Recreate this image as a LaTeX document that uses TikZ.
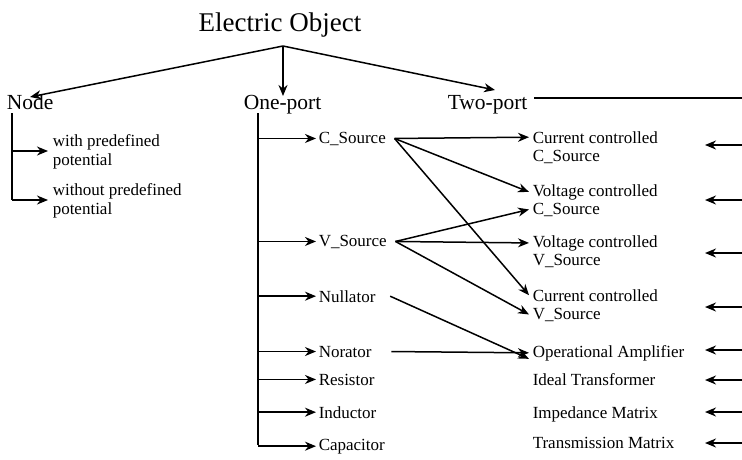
\documentclass[tikz,border=0pt]{standalone}
\usepackage{fontspec}
\setmainfont{Liberation Serif}
\usetikzlibrary{arrows.meta}
\begin{document}
\begin{tikzpicture}[x=1pt,y=-1pt,
  line width=1.5pt,
  arr/.style={-{Stealth[length=11pt,width=9pt,inset=3.5pt]}},
  big/.style={font=\rmfamily\fontsize{27}{30}\selectfont,inner sep=0pt,anchor=base},
  mid/.style={font=\rmfamily\fontsize{21.5}{24}\selectfont,inner sep=0pt,anchor=base west},
  small/.style={font=\rmfamily\fontsize{17}{19}\selectfont,inner sep=0pt,anchor=base west}]
\useasboundingbox (0,0) rectangle (742,459);

% top level
\node[big] (eo) at (280,31) {Electric Object};
\coordinate (apex) at (283,46);
\node[mid] (nd) at (6,109) {Node};
\node[mid] (op) at (243,109) {One-port};
\node[mid] (tp) at (447,109) {Two-port};
\coordinate (ndtip) at (30,97);
\coordinate (optip) at (283,96);
\coordinate (tptip) at (495,90);
\draw[arr] (apex) -- (ndtip);
\draw[arr] (apex) -- (optip);
\draw[arr] (apex) -- (tptip);
\coordinate (tpend) at (742,98);
\draw ([xshift=6pt]tp.east |- tpend) -- (tpend);

% node kinds
\node[small] (wp1) at (52,146) {with predefined};
\node[small] (wp2) at (52,165) {potential};
\node[small] (wo1) at (52,195) {without predefined};
\node[small] (wo2) at (52,214) {potential};
\coordinate (nv0) at (12,113);
\coordinate (nv1) at (12,151);
\coordinate (nv2) at (12,200);
\draw (nv0) -- (nv2);
\draw[arr] (nv1) -- (48,151);
\draw[arr] (nv2) -- (48,200);

% one-ports
\node[small] (cs) at (318,143) {C\_Source};
\node[small] (vs) at (318,246) {V\_Source};
\node[small] (nul) at (318,302) {Nullator};
\node[small] (nor) at (318,357) {Norator};
\node[small] (res) at (318,385) {Resistor};
\node[small] (ind) at (318,418) {Inductor};
\node[small] (cap) at (318,450) {Capacitor};
\coordinate (ov0) at (258,113);
\draw (ov0) -- (258,445);
\foreach \n in {cs,vs,nul,nor,res,ind,cap}
  \draw[arr] (258,0 |- \n.west) -- ([xshift=-2pt]\n.west);

% two-ports
\node[small] (cc1) at (532,143) {Current controlled};
\node[small] (cc2) at (532,161) {C\_Source};
\node[small] (vc1) at (532,196) {Voltage controlled};
\node[small] (vc2) at (532,214) {C\_Source};
\node[small] (vv1) at (532,247) {Voltage controlled};
\node[small] (vv2) at (532,265) {V\_Source};
\node[small] (cv1) at (532,301) {Current controlled};
\node[small] (cv2) at (532,319) {V\_Source};
\node[small] (oa) at (532,357) {Operational Amplifier};
\node[small] (it) at (532,385) {Ideal Transformer};
\node[small] (im) at (532,418) {Impedance Matrix};
\node[small] (tm) at (532,448) {Transmission Matrix};

% controlled sources
\coordinate (csout) at ([xshift=8pt]cs.east);
\coordinate (vsout) at ([xshift=8pt]vs.east);
\draw[arr] (csout) -- ([xshift=-3pt]cc1.west);
\draw[arr] (csout) -- ([xshift=-3pt]vc1.west);
\draw[arr] (csout) -- ([xshift=-3pt]cv1.west);
\draw[arr] (vsout) -- ([xshift=-3pt]vc2.west);
\draw[arr] (vsout) -- ([xshift=-3pt]vv1.west);
\draw[arr] (vsout) -- ([xshift=-3pt]cv2.west);
\draw[arr] ([xshift=14pt]nul.east) -- ([xshift=-3pt,yshift=-6pt]oa.west);
\draw[arr] ([xshift=19pt]nor.east) -- ([xshift=-3pt]oa.west);

% links from the right
\foreach \y in {145,200,253,307,350,380,412,443}
  \draw[arr] (742,\y) -- (705,\y);
\end{tikzpicture}
\end{document}
